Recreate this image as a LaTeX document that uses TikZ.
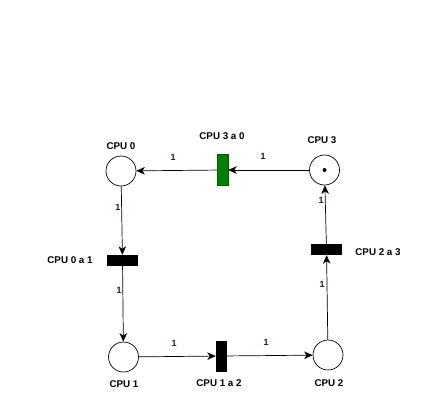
\documentclass[tikz,border=0pt]{standalone}
\usepackage{fontspec}
\setmainfont{Liberation Sans}
\usetikzlibrary{arrows.meta}
\definecolor{wlab}{HTML}{301040}
\definecolor{tgreen}{HTML}{008000}
\tikzset{
  place/.style={circle,draw,line width=0.7pt,minimum size=30pt,inner sep=0pt},
  vtrans/.style={rectangle,fill=black,minimum width=11pt,minimum height=31pt,inner sep=0pt},
  htrans/.style={rectangle,fill=black,minimum width=31pt,minimum height=11pt,inner sep=0pt},
  lab/.style={font=\fontsize{9.8}{10}\selectfont\bfseries,text=black,inner sep=0pt},
  wt/.style={font=\fontsize{9}{10}\selectfont\bfseries,text=wlab,inner sep=0pt},
  arc/.style={line width=0.7pt,-{Stealth[length=8.5pt,width=7.5pt,inset=2.5pt]}},
}
\begin{document}
\begin{tikzpicture}[x=1pt,y=-1pt]
\useasboundingbox (0,0) rectangle (435,418);
\node[place] (p0) at (121,171) {};
\node[place] (p3) at (324.5,170) {};
\node[place] (p1) at (123.5,357) {};
\node[place] (p2) at (328,355) {};
\fill (p3.center) circle (2pt);
\node[vtrans,fill=tgreen,draw=tgreen!70!black,line width=0.5pt] (t30) at (222.5,170) {};
\node[htrans] (t01) at (122.5,260.5) {};
\node[vtrans] (t12) at (221.5,356) {};
\node[htrans] (t23) at (326.5,249.5) {};
\node[lab] (l0) at (121,146) {CPU 0};
\node[lab] (l30) at (222,136) {CPU 3 a 0};
\node[lab] (l3) at (322,140) {CPU 3};
\node[lab] (l01) at (70,260) {CPU 0 a 1};
\node[lab] (l23) at (378,252) {CPU 2 a 3};
\node[lab] (l1) at (124,384) {CPU 1};
\node[lab] (l12) at (219,383) {CPU 1 a 2};
\node[lab] (l2) at (329,383) {CPU 2};
\draw[arc] (p3) -- (t30);
\draw[arc] (t30) -- (p0);
\draw[arc] (p0) -- (t01);
\draw[arc] (t01) -- (p1);
\draw[arc] (p1) -- (t12);
\draw[arc] (t12) -- (p2);
\draw[arc] (p2) -- (t23);
\draw[arc] (t23) -- (p3);
\node[wt] (w1) at (263,156) {1};
\node[wt] (w2) at (173,157) {1};
\node[wt] (w3) at (118,207) {1};
\node[wt] (w4) at (119,290) {1};
\node[wt] (w5) at (174,343) {1};
\node[wt] (w6) at (266,342) {1};
\node[wt] (w7) at (322,284) {1};
\node[wt] (w8) at (321,200) {1};
\end{tikzpicture}
\end{document}
